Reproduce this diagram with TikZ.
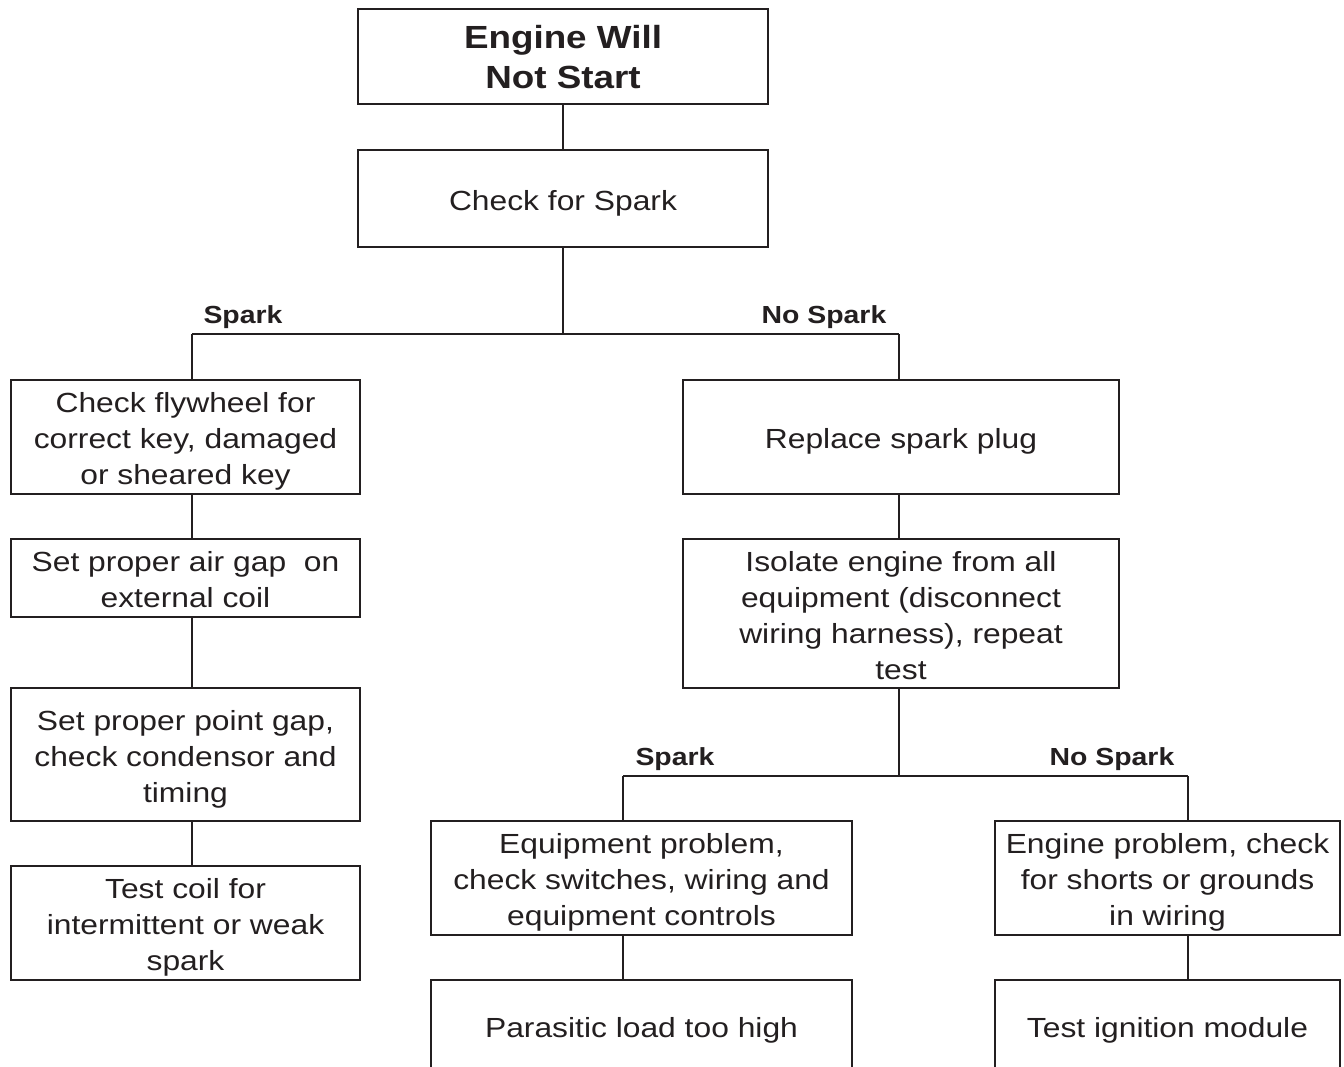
\documentclass[tikz,border=0pt]{standalone}
\usepackage{fontspec}
\setmainfont{Liberation Sans}
\usepackage{graphicx}
\definecolor{ink}{HTML}{231F20}
\newcommand\vtext[1]{\raisebox{-2.2pt}[\height][\depth]{\scalebox{1}[0.87]{\begin{tabular}{@{}c@{}}#1\end{tabular}}}}
\newcommand\ltext[1]{\scalebox{1}[0.87]{#1}}
\begin{document}
\begin{tikzpicture}[x=0.5pt,y=-0.5pt,
  bx/.style 2 args={draw=ink, line width=1.2pt, inner sep=0pt, minimum width=#1, minimum height=#2, text=ink,
     font=\fontsize{15.9}{20.7}\selectfont},
  ttl/.style={font=\bfseries\fontsize{18.4}{23}\selectfont},
  lbl/.style={text=ink, inner sep=0pt, anchor=base, font=\bfseries\fontsize{14.2}{17}\selectfont},
  ln/.style={draw=ink, line width=1.2pt}]
\useasboundingbox[fill=white] (0,0) rectangle (1344,1066);

\node[bx={205pt}{47.5pt}, ttl] (top) at (563,56.5) {\vtext{Engine Will\\Not Start}};
\node[bx={205pt}{48.5pt}] (chk) at (563,198.5) {\vtext{Check for Spark}};

\node[bx={174.5pt}{57pt}] (l1) at (185.5,437) {\vtext{Check flywheel for\\correct key, damaged\\or sheared key}};
\node[bx={174.5pt}{39pt}] (l2) at (185.5,578) {\vtext{Set proper air gap\ \ on\\external coil}};
\node[bx={174.5pt}{66.5pt}] (l3) at (185.5,754.5) {\vtext{Set proper point gap,\\check condensor and\\timing}};
\node[bx={174.5pt}{57pt}] (l4) at (185.5,923) {\vtext{Test coil for\\intermittent or weak\\spark}};

\node[bx={218pt}{57pt}] (r1) at (901,437) {\vtext{Replace spark plug}};
\node[bx={218pt}{74.5pt}] (r2) at (901,613.5) {\vtext{Isolate engine from all\\equipment (disconnect\\wiring harness), repeat\\test}};

\node[bx={210.5pt}{57pt}] (e1) at (641.5,878) {\vtext{Equipment problem,\\check switches, wiring and\\equipment controls}};
\node[bx={210.5pt}{46pt}] (e2) at (641.5,1026) {\vtext{Parasitic load too high}};
\node[bx={172.5pt}{57pt}] (n1) at (1167.5,878) {\vtext{Engine problem, check\\for shorts or grounds\\in wiring}};
\node[bx={172.5pt}{46pt}] (n2) at (1167.5,1026) {\vtext{Test ignition module}};

\coordinate (jm) at (563,334);
\coordinate (jl) at (192,334);
\coordinate (jr) at (899,334);
\coordinate (km) at (899,776);
\coordinate (kl) at (623,776);
\coordinate (kr) at (1188,776);

\draw[ln] (top) -- (chk);
\draw[ln] (chk) -- (jm);
\draw[ln] (jl) -- (jr);
\draw[ln] (jl) -- (jl |- l1.north);
\draw[ln] (jr) -- (jr |- r1.north);
\draw[ln] (l1.south -| jl) -- (l2.north -| jl);
\draw[ln] (l2.south -| jl) -- (l3.north -| jl);
\draw[ln] (l3.south -| jl) -- (l4.north -| jl);
\draw[ln] (r1.south -| jr) -- (r2.north -| jr);
\draw[ln] (r2.south -| jr) -- (km);
\draw[ln] (kl) -- (kr);
\draw[ln] (kl) -- (kl |- e1.north);
\draw[ln] (kr) -- (kr |- n1.north);
\draw[ln] (e1.south -| kl) -- (e2.north -| kl);
\draw[ln] (n1.south -| kr) -- (n2.north -| kr);

\node[lbl] (s1) at (243,323) {\ltext{Spark}};
\node[lbl] (s2) at (824,323) {\ltext{No Spark}};
\node[lbl] (s3) at (675,765) {\ltext{Spark}};
\node[lbl] (s4) at (1112,765) {\ltext{No Spark}};
\end{tikzpicture}
\end{document}
